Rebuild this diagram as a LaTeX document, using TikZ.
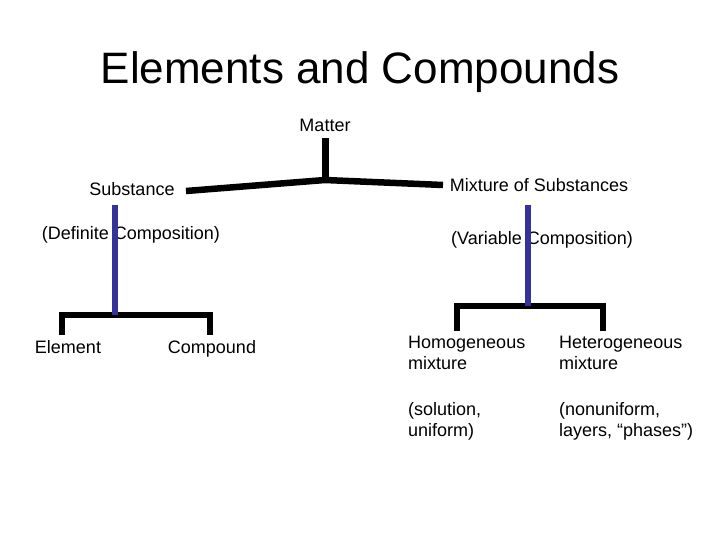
\documentclass[tikz,border=0pt]{standalone}
\usepackage{fontspec}
\setmainfont{Liberation Sans}
\begin{document}
\begin{tikzpicture}[x=1pt,y=-1pt,
    lbl/.style={inner sep=0pt,font=\fontsize{18}{21}\selectfont},
    stem/.style={line width=7pt},
    bar/.style={line width=6.5pt},
    blueline/.style={line width=6pt,draw={rgb,255:red,51;green,51;blue,153}}]
  \useasboundingbox[fill=white] (0,0) rectangle (720,540);
  % title
  \node[inner sep=0pt,anchor=base,font=\fontsize{44}{50}\selectfont] at (360,84) (title) {Elements and Compounds};
  % top level
  \node[lbl,anchor=base] at (325,132) (matter) {Matter};
  \node[lbl,anchor=base] at (132,196) (subst) {Substance};
  \node[lbl,anchor=base] at (539,192) (mix) {Mixture of Substances};
  \node[lbl,anchor=base] at (131,240) (defc) {(Definite Composition)};
  \node[lbl,anchor=base] at (542,244) (varc) {(Variable Composition)};
  % bottom level (base = last line)
  \node[lbl,anchor=base] at (68,353) (elem) {Element};
  \node[lbl,anchor=base] at (212,353) (comp) {Compound};
  \node[lbl,anchor=base west,align=left] at (408,369) (homo) {Homogeneous\\mixture};
  \node[lbl,anchor=base west,align=left] at (559,369) (hetero) {Heterogeneous\\mixture};
  \node[lbl,anchor=base west,align=left] at (408,436) (sol) {(solution,\\uniform)};
  \node[lbl,anchor=base west,align=left] at (559,436) (nonu) {(nonuniform,\\layers, “phases”)};
  % joints
  \coordinate (mtop) at (325,138);
  \coordinate (mjoin) at (325,180);
  \coordinate (sjoin) at (186,191);
  \coordinate (xjoin) at (443,185);
  \coordinate (ltop) at (115,205);
  \coordinate (ljoin) at (115,315);
  \coordinate (rtop) at (528,205);
  \coordinate (rjoin) at (528,306);
  \draw[stem] (mtop) -- (mjoin);
  \draw[bar] (sjoin) -- (mjoin) -- (xjoin);
  \draw[bar] (62,335) |- (ljoin) -| (210,335);
  \draw[bar] (457,331) |- (rjoin) -| (603,331);
  \draw[blueline] (ltop) -- (ljoin);
  \draw[blueline] (rtop) -- (rjoin);
\end{tikzpicture}
\end{document}
